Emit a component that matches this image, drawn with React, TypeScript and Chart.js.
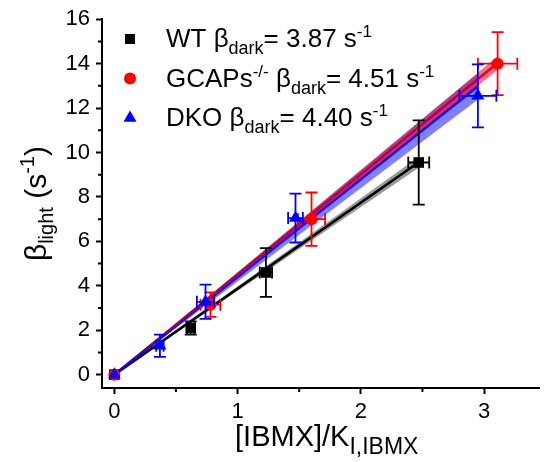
import React, { useEffect, useRef } from 'react';
import { Chart, registerables } from 'chart.js';

Chart.register(...registerables);

const FONT = '"Liberation Sans", Arial, Helvetica, sans-serif';

// ---- series metadata ----
const seriesNames = ['WT', 'GCAPs', 'DKO'];
const seriesSup = ['', '-/-', ''];
const betaDark = [3.87, 4.51, 4.4];
const bandHalf = [0.1, 0.1, 0.2];
const seriesColors = ['#000000', '#ff0000', '#0000ff'];
const bandColors = ['rgba(0,0,0,0.4)', 'rgba(230,0,40,0.55)', 'rgba(0,0,255,0.5)'];
const seriesShapes = ['rect', 'circle', 'triangle'];

// ---- data ----
const wtX = [0, 0.62, 1.23, 2.47];
const wtY = [0, 2.1, 4.6, 9.55];
const wtXErr = [0, 0.03, 0.05, 0.085];
const wtYErr = [0, 0.3, 1.1, 1.9];

const gcX = [0, 0.78, 1.6, 3.11];
const gcY = [0, 3.15, 7.0, 14.0];
const gcXErr = [0, 0.08, 0.11, 0.16];
const gcYErr = [0, 0.55, 1.2, 1.42];

const dkoX = [0, 0.37, 0.74, 1.47, 2.95];
const dkoY = [0, 1.3, 3.28, 7.05, 12.55];
const dkoXErr = [0, 0.03, 0.07, 0.06, 0.15];
const dkoYErr = [0, 0.5, 0.77, 1.1, 1.42];

// ---- ticks ----
const xMajorTicks = [0, 1, 2, 3];
const xMinorTicks = [0.5, 1.5, 2.5];
const yMajorTicks = [0, 2, 4, 6, 8, 10, 12, 14, 16];
const yMinorTicks = [1, 3, 5, 7, 9, 11, 13, 15];

const allX = [wtX, gcX, dkoX];
const allY = [wtY, gcY, dkoY];
const allXErr = [wtXErr, gcXErr, dkoXErr];
const allYErr = [wtYErr, gcYErr, dkoYErr];

type Seg = { text: string; size: number; dy: number };

function drawRich(ctx: CanvasRenderingContext2D, segs: Seg[], x: number, y: number, center: boolean) {
  const widths: number[] = [];
  let total = 0;
  segs.forEach((s) => {
    ctx.font = `${s.size}px ${FONT}`;
    const w = ctx.measureText(s.text).width;
    widths.push(w);
    total += w;
  });
  let cx = center ? x - total / 2 : x;
  ctx.textAlign = 'left';
  ctx.textBaseline = 'alphabetic';
  segs.forEach((s, i) => {
    ctx.font = `${s.size}px ${FONT}`;
    ctx.fillText(s.text, cx, y + s.dy);
    cx += widths[i];
  });
}

function drawMarker(ctx: CanvasRenderingContext2D, shape: string, x: number, y: number, color: string) {
  ctx.fillStyle = color;
  ctx.beginPath();
  if (shape === 'rect') {
    ctx.rect(x - 5, y - 5, 10, 10);
  } else if (shape === 'circle') {
    ctx.arc(x, y, 6, 0, Math.PI * 2);
  } else {
    const r = 7.5;
    ctx.moveTo(x, y - r);
    ctx.lineTo(x + r * Math.cos(Math.PI / 6), y + r / 2);
    ctx.lineTo(x - r * Math.cos(Math.PI / 6), y + r / 2);
    ctx.closePath();
  }
  ctx.fill();
}

const errorBarPlugin = {
  id: 'errorBars',
  beforeDatasetDraw(chart: any, args: any) {
    const ds: any = chart.data.datasets[args.index];
    if (!ds.errY) return;
    const ctx = chart.ctx as CanvasRenderingContext2D;
    const xs = chart.scales.x;
    const ys = chart.scales.y;
    const cap = 6;
    ctx.save();
    ctx.strokeStyle = ds.errColor;
    ctx.lineWidth = 1.8;
    ds.data.forEach((p: any, i: number) => {
      const px = xs.getPixelForValue(p.x);
      const py = ys.getPixelForValue(p.y);
      const ey = ds.errY[i];
      const ex = ds.errX[i];
      ctx.beginPath();
      if (ey > 0) {
        const t = ys.getPixelForValue(p.y + ey);
        const b = ys.getPixelForValue(p.y - ey);
        ctx.moveTo(px, t);
        ctx.lineTo(px, b);
        ctx.moveTo(px - cap, t);
        ctx.lineTo(px + cap, t);
        ctx.moveTo(px - cap, b);
        ctx.lineTo(px + cap, b);
      }
      if (ex > 0) {
        const l = xs.getPixelForValue(p.x - ex);
        const r = xs.getPixelForValue(p.x + ex);
        ctx.moveTo(l, py);
        ctx.lineTo(r, py);
        ctx.moveTo(l, py - cap);
        ctx.lineTo(l, py + cap);
        ctx.moveTo(r, py - cap);
        ctx.lineTo(r, py + cap);
      }
      ctx.stroke();
    });
    ctx.restore();
  },
};

const overlayPlugin = {
  id: 'overlay',
  afterDraw(chart: any) {
    const ctx = chart.ctx as CanvasRenderingContext2D;
    const area = chart.chartArea;
    const xs = chart.scales.x;
    const ys = chart.scales.y;
    ctx.save();
    // minor ticks
    ctx.strokeStyle = '#000';
    ctx.lineWidth = 2;
    ctx.beginPath();
    yMinorTicks.forEach((v) => {
      const p = ys.getPixelForValue(v);
      ctx.moveTo(area.left - 4, p);
      ctx.lineTo(area.left, p);
    });
    xMinorTicks.forEach((v) => {
      const p = xs.getPixelForValue(v);
      ctx.moveTo(p, area.bottom);
      ctx.lineTo(p, area.bottom + 4);
    });
    ctx.stroke();

    ctx.fillStyle = '#000';
    // x title
    drawRich(
      ctx,
      [
        { text: '[IBMX]/K', size: 29, dy: 0 },
        { text: 'I,IBMX', size: 23, dy: 8 },
      ],
      (area.left + area.right) / 2 + 6,
      446,
      true
    );
    // y title
    ctx.save();
    ctx.translate(46, (area.top + area.bottom) / 2);
    ctx.rotate(-Math.PI / 2);
    ctx.fillStyle = '#000';
    drawRich(
      ctx,
      [
        { text: 'β', size: 30, dy: 0 },
        { text: 'light', size: 20, dy: 7 },
        { text: ' (s', size: 30, dy: 0 },
        { text: '-1', size: 20, dy: -12 },
        { text: ')', size: 30, dy: 0 },
      ],
      0,
      0,
      true
    );
    ctx.restore();

    // legend
    const rowY = [39, 78.5, 118];
    seriesNames.forEach((name, i) => {
      drawMarker(ctx, seriesShapes[i], 130, rowY[i], seriesColors[i]);
      ctx.fillStyle = '#000';
      const segs: Seg[] = [{ text: name, size: 26, dy: 0 }];
      if (seriesSup[i]) segs.push({ text: seriesSup[i], size: 17, dy: -10 });
      segs.push({ text: ' β', size: 26, dy: 0 });
      segs.push({ text: 'dark', size: 18, dy: 7 });
      segs.push({ text: '= ' + betaDark[i].toFixed(2) + ' s', size: 26, dy: 0 });
      segs.push({ text: '-1', size: 17, dy: -10 });
      drawRich(ctx, segs, 166, rowY[i] + 8, false);
    });
    ctx.restore();
  },
};

export default function App() {
  const ref = useRef<HTMLCanvasElement>(null);

  useEffect(() => {
    if (!ref.current) return;
    Chart.defaults.font.family = FONT;

    const datasets: any[] = [];
    // order: higher value drawn first (underneath)
    const lineOrders = [100, 99, 98]; // WT, GCAPs, DKO fit lines
    const bandOrders = [97, 95, 96]; // WT, GCAPs (top), DKO
    const pointOrders = [3, 2, 1];
    seriesNames.forEach((name, i) => {
      const xs = allX[i];
      const xEnd = xs[xs.length - 1];
      const s = betaDark[i];
      const h = bandHalf[i];
      // band upper
      datasets.push({
        type: 'line',
        label: name + ' band+',
        data: [
          { x: 0, y: 0 },
          { x: xEnd, y: (s + h) * xEnd },
        ],
        borderWidth: 0,
        borderColor: 'rgba(0,0,0,0)',
        pointRadius: 0,
        backgroundColor: bandColors[i],
        fill: '+1',
        order: bandOrders[i],
      });
      // band lower
      datasets.push({
        type: 'line',
        label: name + ' band-',
        data: [
          { x: 0, y: 0 },
          { x: xEnd, y: (s - h) * xEnd },
        ],
        borderWidth: 0,
        borderColor: 'rgba(0,0,0,0)',
        pointRadius: 0,
        fill: false,
        order: bandOrders[i],
      });
      // fit line
      datasets.push({
        type: 'line',
        label: name + ' fit',
        data: [
          { x: 0, y: 0 },
          { x: xEnd, y: s * xEnd },
        ],
        borderWidth: 2.6,
        borderColor: seriesColors[i],
        pointRadius: 0,
        fill: false,
        order: lineOrders[i],
      });
      // points
      datasets.push({
        type: 'scatter',
        label: name,
        data: xs.map((x, k) => ({ x, y: allY[i][k] })),
        pointStyle: seriesShapes[i],
        pointRadius: seriesShapes[i] === 'circle' ? 6 : 7.5,
        backgroundColor: seriesColors[i],
        borderColor: seriesColors[i],
        borderWidth: 0,
        errX: allXErr[i],
        errY: allYErr[i],
        errColor: seriesColors[i],
        order: pointOrders[i],
      });
    });

    const chart = new Chart(ref.current, {
      type: 'scatter',
      data: { datasets },
      plugins: [errorBarPlugin, overlayPlugin],
      options: {
        animation: false,
        responsive: false,
        devicePixelRatio: 1,
        clip: false as any,
        layout: { padding: { top: 19, left: 0, right: 0, bottom: 0 } },
        plugins: {
          legend: { display: false },
          tooltip: { enabled: false },
          title: { display: false },
        },
        scales: {
          x: {
            type: 'linear',
            min: -0.1,
            max: 3.45,
            afterFit: (s: any) => {
              s.height = 74;
            },
            afterBuildTicks: (s: any) => {
              s.ticks = xMajorTicks.map((v) => ({ value: v }));
            },
            grid: {
              drawOnChartArea: false,
              drawTicks: true,
              tickLength: 6,
              tickWidth: 2,
              tickColor: '#000',
            },
            border: { display: true, color: '#000', width: 2 },
            ticks: {
              color: '#000',
              font: { size: 22, family: FONT },
              padding: 5,
              maxRotation: 0,
              autoSkip: false,
              callback: (v: any) => String(v),
            },
          },
          y: {
            type: 'linear',
            min: -0.6,
            max: 16,
            afterFit: (s: any) => {
              s.width = 102;
            },
            afterBuildTicks: (s: any) => {
              s.ticks = yMajorTicks.map((v) => ({ value: v }));
            },
            grid: {
              drawOnChartArea: false,
              drawTicks: true,
              tickLength: 6,
              tickWidth: 2,
              tickColor: '#000',
            },
            border: { display: true, color: '#000', width: 2 },
            ticks: {
              color: '#000',
              font: { size: 22, family: FONT },
              padding: 6,
              autoSkip: false,
              callback: (v: any) => String(v),
            },
          },
        },
      } as any,
    });
    return () => chart.destroy();
  }, []);

  return (
    <div style={{ position: 'absolute', left: 0, top: 0, width: 547, height: 462, background: '#fff' }}>
      <canvas ref={ref} width={547} height={462} style={{ display: 'block' }} />
    </div>
  );
}
